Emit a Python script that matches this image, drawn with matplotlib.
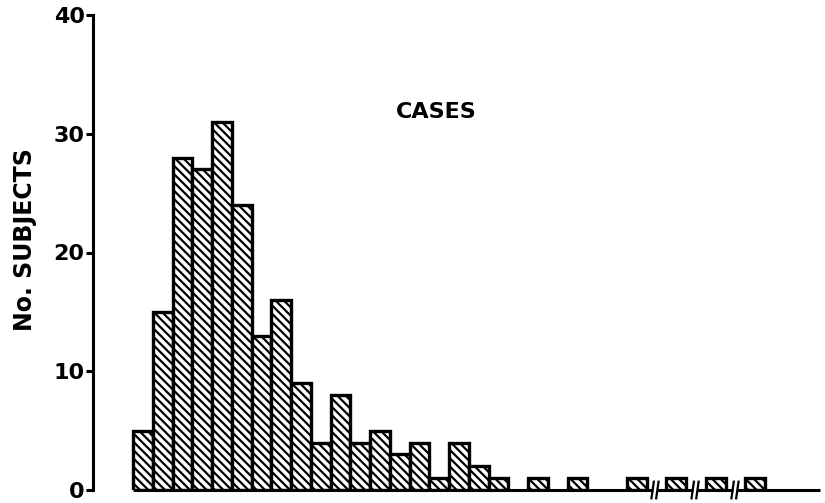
import matplotlib
matplotlib.use("Agg")
import matplotlib.pyplot as plt
import numpy as np

# ---- data ----
bin_index = list(range(32))
counts = [5, 15, 28, 27, 31, 24, 13, 16, 9, 4, 8, 4, 5, 3, 4, 1,
          4, 2, 1, 0, 1, 0, 1, 0, 0, 1, 0, 1, 0, 1, 0, 1]
y_ticks = [0, 10, 20, 30, 40]
y_label = "No. SUBJECTS"
title_text = "CASES"
break_positions = [26.43, 28.46, 30.48]

plt.rcParams['hatch.linewidth'] = 1.6
plt.rcParams['font.family'] = ['DejaVu Sans']

fig = plt.figure(figsize=(8.25, 5.03), dpi=100)
ax = fig.add_axes([93/825, 13/503, (820-93)/825, (490-15)/503])

xs = [b for b, c in zip(bin_index, counts) if c > 0]
hs = [c for c in counts if c > 0]
ax.bar(xs, hs, width=1.0, align='edge', facecolor='white',
       edgecolor='black', linewidth=2.4, hatch='\\\\\\\\', zorder=3)

xmin = -(133 - 93) / 19.75
xmax = (820 - 133) / 19.75
ax.set_xlim(xmin, xmax)
ax.set_ylim(0, 40)

for s in ['top', 'right', 'bottom']:
    ax.spines[s].set_visible(False)
ax.spines['left'].set_linewidth(2.2)
ax.set_xticks([])
ax.set_yticks(y_ticks)
ax.set_yticklabels([str(t) for t in y_ticks], fontsize=16, fontweight='bold')
ax.tick_params(axis='y', direction='out', length=5, width=2.2, pad=1)

# x axis baseline with break marks
gap = 0.12
starts = [0] + [b + gap for b in break_positions]
ends = [b - gap for b in break_positions] + [xmax]
for s0, e0 in zip(starts, ends):
    ax.plot([s0, e0], [0, 0], color='black', lw=2.2, clip_on=False,
            solid_capstyle='butt', zorder=4)
for b in break_positions:
    for d in (-gap, gap):
        ax.plot([b + d - 0.06, b + d + 0.06], [-0.7, 0.7], color='black',
                lw=1.6, clip_on=False, zorder=4)

fig.text(436/825, 1 - 112/503, title_text, fontsize=16, ha='center',
         va='center', fontweight='bold')
fig.text(25/825, 1 - 240/503, y_label, fontsize=17, ha='center',
         va='center', rotation=90, fontweight='bold')

fig.savefig('out.png', dpi=100)
